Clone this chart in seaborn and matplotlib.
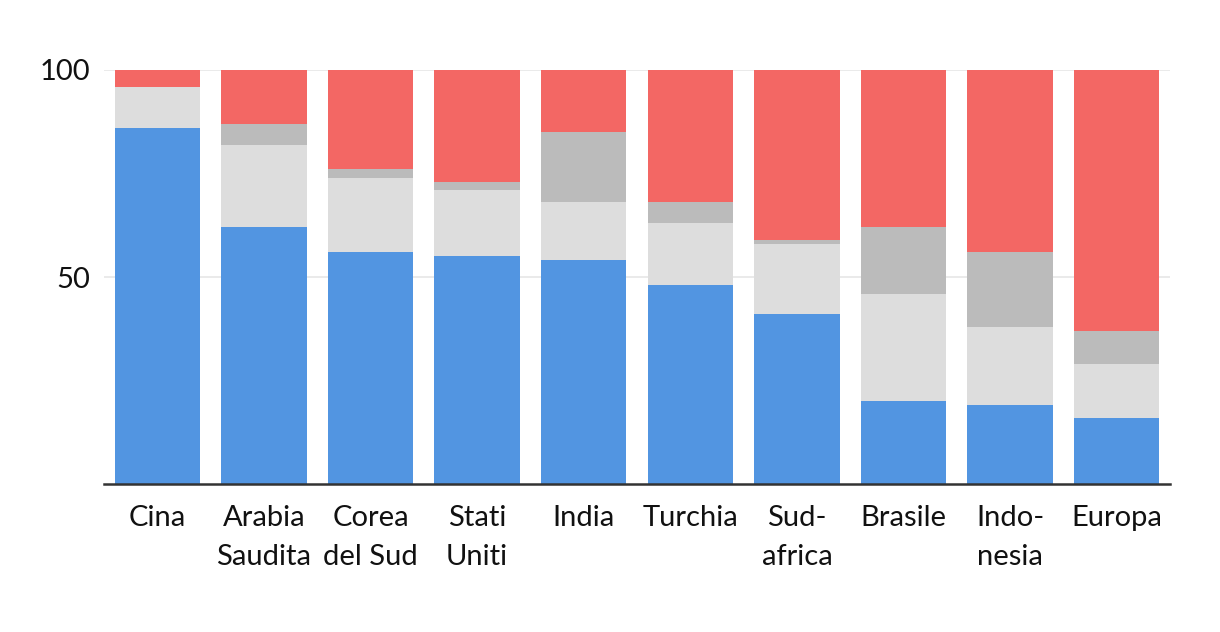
import matplotlib
matplotlib.use("Agg")
import matplotlib.pyplot as plt
import seaborn as sns
import numpy as np
import pandas as pd

categories = ["Cina", "Arabia\nSaudita", "Corea\ndel Sud", "Stati\nUniti", "India",
              "Turchia", "Sud-\nafrica", "Brasile", "Indo-\nnesia", "Europa"]
blue = [86, 62, 56, 55, 54, 48, 41, 20, 19, 16]
light_gray = [10, 20, 18, 16, 14, 15, 17, 26, 19, 13]
dark_gray = [0, 5, 2, 2, 17, 5, 1, 16, 18, 8]
red = [4, 13, 24, 27, 15, 32, 41, 38, 44, 63]
y_ticks = [50, 100]

colors = {"red": "#f36764", "dark": "#bbbbbb", "light": "#dddddd", "blue": "#5295e1"}

sns.set_theme(style="white")
plt.rcParams["font.family"] = ["Lato", "DejaVu Sans"]

b = np.array(blue)
l = np.array(light_gray)
d = np.array(dark_gray)
r = np.array(red)
layers = [
    ("red", b + l + d + r),
    ("dark", b + l + d),
    ("light", b + l),
    ("blue", b),
]

fig = plt.figure(figsize=(12.2, 6.32), dpi=100)
ax = fig.add_axes([104 / 1220, 1 - 484 / 632, (1170 - 104) / 1220, (484 - 70) / 632])

for yt in y_ticks:
    ax.axhline(yt, color="#e6e6e6", lw=1.2, zorder=0)

for name, vals in layers:
    df = pd.DataFrame({"cat": categories, "val": vals})
    sns.barplot(data=df, x="cat", y="val", color=colors[name], width=0.8,
                saturation=1, ax=ax, zorder=2, order=categories,
                linewidth=0, edgecolor="none")

ax.set_xlim(-0.5, 9.5)
ax.set_ylim(0, 100)
ax.set_yticks(y_ticks)
ax.set_yticklabels([str(v) for v in y_ticks])
ax.set_xlabel("")
ax.set_ylabel("")
ax.tick_params(axis="both", length=0, labelsize=21, labelcolor="#111111")
ax.tick_params(axis="x", pad=15)
ax.tick_params(axis="y", pad=10)
for lab in ax.get_xticklabels():
    lab.set_linespacing(1.65)
for s in ["top", "right", "left"]:
    ax.spines[s].set_visible(False)
ax.spines["bottom"].set_color("#333333")
ax.spines["bottom"].set_linewidth(1.8)
ax.spines["bottom"].set_zorder(5)

fig.savefig("out.png", dpi=100, facecolor="white")
